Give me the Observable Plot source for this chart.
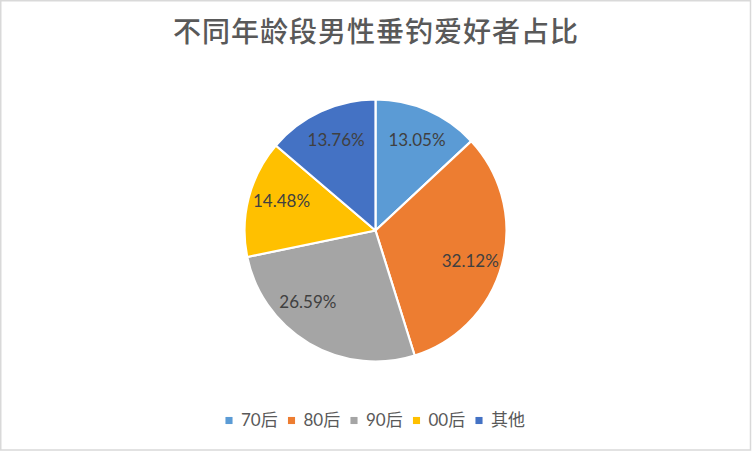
<!DOCTYPE html>
<html><head><meta charset="utf-8">
<script src="https://cdn.jsdelivr.net/npm/d3@7"></script>
<script src="https://cdn.jsdelivr.net/npm/@observablehq/plot@0.6"></script>
<style>body{margin:0;background:#fff} svg{display:block}</style>
</head><body><div id="chart"></div>
<script>
const title = "不同年龄段男性垂钓爱好者占比";
const categories = ["70后", "80后", "90后", "00后", "其他"];
const values = [13.05, 32.12, 26.59, 14.48, 13.76];
const colors = ["#5B9BD5", "#ED7D31", "#A5A5A5", "#FFC000", "#4472C4"];

// layout: label angle nudges (degrees) mimicking the "best fit" placement
const labelAngleNudge = [1, 3, 13, 3, 1];

const W = 752, H = 452;
const cx = 375.5, cy = 230.5, R = 131, labelR = 99;
const data = categories.map((c, i) => ({category: c, value: values[i]}));
const arcs = d3.pie().sort(null).value(d => d.value)(data);
const labels = arcs.map((a, i) => {
  const m = (a.startAngle + a.endAngle) / 2 + labelAngleNudge[i] * Math.PI / 180;
  return {category: a.data.category, text: a.data.value.toFixed(2) + "%",
          x: cx + labelR * Math.sin(m), y: cy - labelR * Math.cos(m)};
});
const legendStep = 62.5;
const legend = categories.map((c, i) => ({category: c, x: cx + (i - 2) * legendStep - 22, y: 420}));

const fallbackColor = d3.scaleOrdinal(categories, colors);
function pieMark(index, scales) {
  const color = scales.color || fallbackColor;
  const g = d3.create("svg:g");
  const arc = d3.arc().innerRadius(0).outerRadius(R);
  g.selectAll("path").data(arcs).join("path")
    .attr("transform", `translate(${scales.x(cx)},${scales.y(cy)})`)
    .attr("d", arc)
    .attr("fill", d => color(d.data.category))
    .attr("stroke", "#fff")
    .attr("stroke-width", 2.2)
    .attr("stroke-linejoin", "round");
  return g.node();
}

const chart = Plot.plot({
  width: W, height: H,
  margin: 0,
  x: {domain: [0, W], range: [0, W], axis: null},
  y: {domain: [0, H], range: [0, H], axis: null},
  color: {domain: categories, range: colors},
  style: {background: "#fff"},
  marks: [
    Plot.rect([{}], {x1: 0.75, x2: 750.5, y1: 0.75, y2: 450, fill: "#fff", stroke: "#d9d9d9", strokeWidth: 1.5}),
    Plot.text([title], {x: cx, y: 33, text: d => d, fontSize: 28, fill: "#595959", fontWeight: 500,
      fontFamily: "'Noto Sans CJK SC', sans-serif", textAnchor: "middle", className: "ttl"}),
    pieMark,
    Plot.text(labels, {x: "x", y: "y", text: "text", fontSize: 17, fill: "#404040",
      fontFamily: "Lato, 'Noto Sans', sans-serif", textAnchor: "middle"}),
    Plot.dot(legend, {x: "x", y: "y", fill: "category", symbol: "square", r: 4}),
    Plot.text(legend, {x: d => d.x + 12, y: "y", text: "category", fill: "#595959", fontSize: 17,
      fontFamily: "Lato, 'Noto Sans CJK SC', sans-serif", textAnchor: "start"})
  ]
});
d3.select(chart).selectAll(".ttl text").attr("letter-spacing", "1px");
document.getElementById("chart").appendChild(chart);
</script></body></html>
